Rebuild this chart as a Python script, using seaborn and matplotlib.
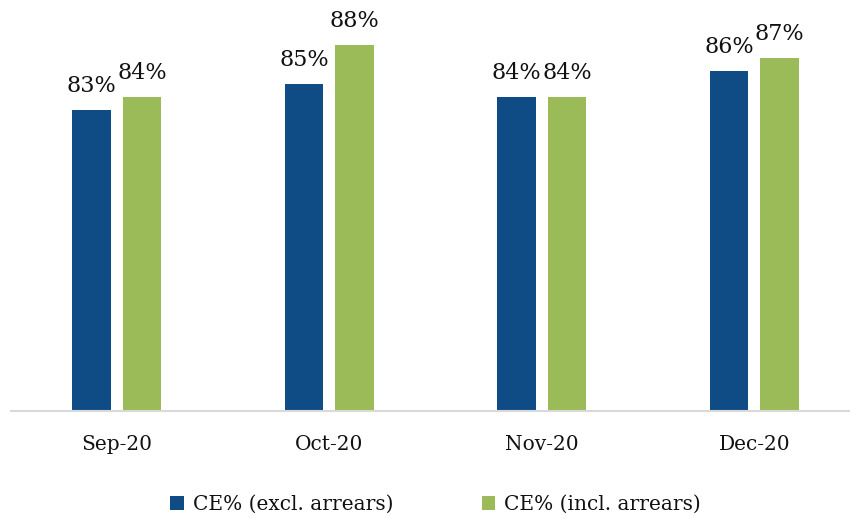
import matplotlib.pyplot as plt
import pandas as pd
import seaborn as sns

months = ["Sep-20", "Oct-20", "Nov-20", "Dec-20"]
excl_arrears = [83, 85, 84, 86]
incl_arrears = [84, 88, 84, 87]
series_names = ["CE% (excl. arrears)", "CE% (incl. arrears)"]

data = pd.DataFrame({
    "Month": months * 2,
    "Value": excl_arrears + incl_arrears,
    "Series": [series_names[0]] * len(months) + [series_names[1]] * len(months),
})

sns.set_theme(style="white")
plt.rcParams["font.family"] = ["DejaVu Serif"]

fig = plt.figure(figsize=(8.5, 5.19), dpi=100)
ax = fig.add_axes([10.5 / 850, 108 / 519, 850 / 850, 411 / 519])

palette = {series_names[0]: "#0F4B85", series_names[1]: "#9BBB59"}
sns.barplot(data=data, x="Month", y="Value", hue="Series", palette=palette,
            width=0.476, gap=0.24, saturation=1, linewidth=0, ax=ax)

for container in ax.containers:
    ax.bar_label(container, labels=[f"{v:.0f}%" for v in container.datavalues],
                 padding=9, fontsize=16, color="#111111")

ax.set_ylim(60, 91.4)
ax.set_xlim(-0.5, 3.5)
ax.set_xlabel("")
ax.set_ylabel("")
ax.set_yticks([])
ax.tick_params(axis="x", length=0, pad=17, labelsize=14.5, colors="#111111")
for side in ["top", "right", "left"]:
    ax.spines[side].set_visible(False)
ax.spines["bottom"].set_color("#d9d9d9")
ax.spines["bottom"].set_linewidth(1.5)

ax.legend(loc="center", bbox_to_anchor=(0.5, -0.228), ncol=2, frameon=False,
          fontsize=14.5, handlelength=0.65, handleheight=0.65, handletextpad=0.45,
          columnspacing=4.4, labelcolor="#111111")

fig.savefig("out.png", dpi=100)
